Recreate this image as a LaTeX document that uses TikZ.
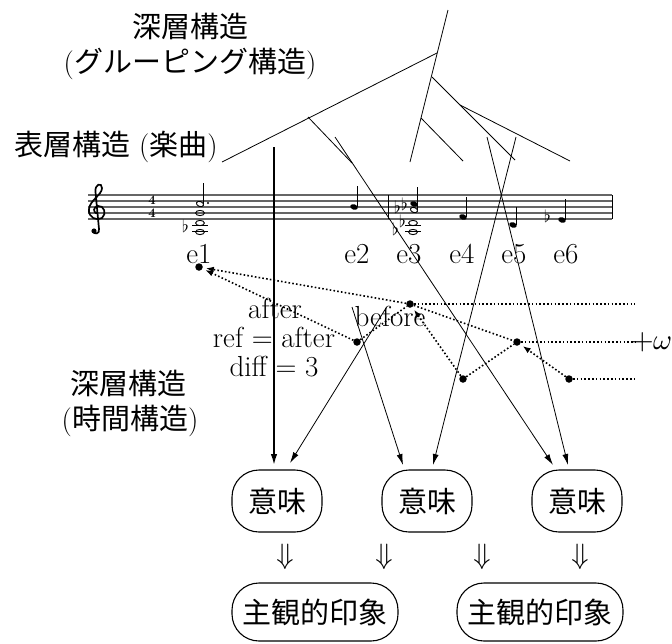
\documentclass[tikz,border=0pt]{standalone}
\usepackage{fontspec}
\usepackage{unicode-math}
\newfontfamily\cjk{Noto Sans CJK JP}
\usetikzlibrary{arrows.meta}
\newcommand\myqnote[2]{\fill[rotate around={-20:(#1,#2)}] (#1,#2) ellipse [x radius=3.9pt,y radius=2.7pt];}
\newcommand\myonote[2]{\draw[line width=0.9pt,rotate around={-20:(#1,#2)}] (#1,#2) ellipse [x radius=3.7pt,y radius=2.5pt];}
\newcommand\mywnote[2]{\draw[line width=0.9pt] (#1,#2) ellipse [x radius=4.4pt,y radius=2.6pt];}
\begin{document}
\begin{tikzpicture}[x=1pt,y=-1pt,
  lbl/.style={inner sep=0pt, font=\fontsize{29}{34}\selectfont},
  jlbl/.style={inner sep=0pt, font=\fontsize{29}{34}\selectfont},
  treeline/.style={line width=0.8pt},
  conn/.style={line width=0.8pt,-{Latex[length=11pt,width=6pt]}},
  vconn/.style={line width=1.6pt,-{Latex[length=11pt,width=6.5pt]}},
  dotl/.style={line width=1.6pt, dash pattern=on 1.6pt off 2.2pt},
  dotarr/.style={dotl,-{Latex[length=8pt,width=6pt]}, shorten >=3pt},
  ev/.style={circle, fill, inner sep=0pt, minimum size=7.5pt},
  rbox/.style={draw, line width=1.1pt, rounded corners=27pt, inner sep=0pt, font=\fontsize{29}{34}\selectfont\cjk},
  staffl/.style={line width=1.4pt, black!60},
  flatsym/.style={inner sep=0pt, font=\fontsize{17}{17}\selectfont},
  tsig/.style={inner sep=0pt, font=\fontsize{13}{13}\selectfont\bfseries},
  stem/.style={line width=0.8pt}
]
\useasboundingbox (0,0) rectangle (672,643);

% ---- labels ----
\node[jlbl] (gs1) at (190,26) {\cjk 深層構造};
\node[jlbl] (gs2) at (190,64) {({\cjk グルーピング構造})};
\node[jlbl] (surf) at (116,147) {{\cjk 表層構造} ({\cjk 楽曲})};
\node[jlbl] (ts1) at (128,383) {\cjk 深層構造};
\node[jlbl] (ts2) at (130,421) {({\cjk 時間構造})};

% ---- staff ----
\foreach \yy in {195,201,207,213,219} \draw[staffl] (88,\yy) -- (612,\yy);
\draw[line width=0.8pt] (388,195) -- (388,219);
\draw[line width=0.9pt] (612,195) -- (612,219);
% treble clef
\draw[line width=1.7pt] (99,229) .. controls (100,234) and (94,235) .. (93,231)
  (99,229) -- (95.5,192) .. controls (94.5,184) and (102,182) .. (102,188)
  .. controls (102,195) and (90,200) .. (89,209)
  .. controls (88,218) and (97,221) .. (102,218)
  .. controls (107,214) and (104,205) .. (98,206)
  .. controls (93,207) and (93,212) .. (96.5,213.5);
\fill (94,231) circle (2.6pt);
\node[tsig] (ts4a) at (152,200.5) {4};
\node[tsig] (ts4b) at (152,213.5) {4};
% e1 chord
\myonote{200}{204}
\draw[stem] (203.6,204) -- (203.6,183);
\fill (208,203) circle (1.1pt);
\mywnote{200}{213}
\mywnote{200}{223}
\mywnote{200}{232}
\draw[line width=0.7pt] (192,225) -- (208,225) (192,231) -- (208,231);
\node[flatsym] (f1) at (186,226) {$\flat$};
% e2
\myqnote{354}{207}
\draw[stem] (357.6,207) -- (357.6,186);
% e3
\node[flatsym] (f2) at (398,207) {$\flat$};
\node[flatsym] (f3) at (405,204) {$\flat$};
\myqnote{414}{204}
\myonote{414}{210}
\draw[stem] (417.6,210) -- (417.6,187);
\node[flatsym] (f4) at (396,229) {$\flat$};
\node[flatsym] (f5) at (403,221) {$\flat$};
\mywnote{413}{223}
\mywnote{413}{232}
\draw[line width=0.7pt] (405,225) -- (421,225) (405,231) -- (421,231);
% e4
\myqnote{463}{217}
\draw[stem] (466.6,217) -- (466.6,197);
% e5
\myqnote{513}{225}
\draw[stem] (516.6,225) -- (516.6,207);
% e6
\node[flatsym] (f6) at (548,216) {$\flat$};
\myqnote{562}{220}
\draw[stem] (565.6,220) -- (565.6,199);

% ---- event labels ----
\node[lbl,anchor=base] (e1) at (199,263) {e1};
\node[lbl,anchor=base] (e2) at (357,263) {e2};
\node[lbl,anchor=base] (e3) at (409,263) {e3};
\node[lbl,anchor=base] (e4) at (462,263) {e4};
\node[lbl,anchor=base] (e5) at (514,263) {e5};
\node[lbl,anchor=base] (e6) at (566,263) {e6};

% ---- grouping tree ----
\coordinate (R0) at (448,10);
\coordinate (J1) at (437,53);
\coordinate (J2) at (432,77);
\coordinate (J3) at (421,118);
\coordinate (Tb) at (410,162);
\coordinate (L0) at (222,162);
\coordinate (J4) at (308,117);
\coordinate (L1) at (352,163);
\coordinate (J5) at (460,105);
\coordinate (L2) at (515,160);
\coordinate (L3) at (570,161);
\coordinate (L4) at (463,161);
\draw[treeline] (R0) -- (Tb);
\draw[treeline] (J1) -- (L0);
\draw[treeline] (J4) -- (L1);
\draw[treeline] (J2) -- (L2);
\draw[treeline] (J5) -- (L3);
\draw[treeline] (J3) -- (L4);

% ---- time-span dots ----
\node[ev] (d1) at (199,267) {};
\node[ev] (dB) at (410,304) {};
\node[ev] (dR) at (357,342) {};
\node[ev] (d5) at (517,342) {};
\node[ev] (d4) at (463,379) {};
\node[ev] (d6) at (569,379) {};
\coordinate (hB) at (635,304);
\coordinate (h5) at (635,342);
\coordinate (h6) at (635,379);
\draw[dotl] (dB) -- (hB);
\draw[dotl] (d5) -- (h5);
\draw[dotl] (d6) -- (h6);
\draw[dotarr] (dB) -- (d1);
\draw[dotarr] (dR) -- (d1);
\draw[dotarr] (d4) -- (dB);
\draw[dotarr] (d6) -- (d5);
\draw[dotl] (dR) -- (dB);
\draw[dotl] (dB) -- (d5);
\draw[dotl] (d4) -- (d5);
\node[lbl,anchor=west] (om) at (631,342) {$+\omega$};

\node[lbl,anchor=base] (aft) at (275,318) {after};
\node[lbl,anchor=base] (bef) at (390,326) {before};
\node[lbl,anchor=base] (refa) at (274,347) {ref = after};
\node[lbl,anchor=base] (dif) at (274,376) {diff = 3};

% ---- meaning boxes ----
\node[rbox, minimum width=90pt, minimum height=62pt] (m1) at (277,501) {意味};
\node[rbox, minimum width=90pt, minimum height=62pt] (m2) at (427,501) {意味};
\node[rbox, minimum width=90pt, minimum height=62pt] (m3) at (577,501) {意味};
\node[rbox, minimum width=166pt, minimum height=58pt] (s1) at (315,612) {主観的印象};
\node[rbox, minimum width=166pt, minimum height=58pt] (s2) at (540,612) {主観的印象};
\node[lbl] (da1) at (285,557) {$\Downarrow$};
\node[lbl] (da2) at (384,557) {$\Downarrow$};
\node[lbl] (da3) at (482,557) {$\Downarrow$};
\node[lbl] (da4) at (580,557) {$\Downarrow$};

% ---- connectors into boxes ----
\coordinate (V0) at (274,147);
\coordinate (A0) at (335,137);
\coordinate (E0) at (487,137);
\coordinate (D0) at (516,137);
\coordinate (B0) at (386,308);
\coordinate (C0) at (352,307);
\coordinate (m1a) at (274,465);
\coordinate (m1b) at (290,463);
\coordinate (m2a) at (403,465);
\coordinate (m2b) at (433,465);
\coordinate (m3a) at (553,465);
\coordinate (m3b) at (568,465);
\draw[vconn] (V0) -- (m1a);
\draw[conn] (B0) -- (m1b);
\draw[conn] (C0) -- (m2a);
\draw[conn] (D0) -- (m2b);
\draw[conn] (A0) -- (m3a);
\draw[conn] (E0) -- (m3b);
\end{tikzpicture}
\end{document}
